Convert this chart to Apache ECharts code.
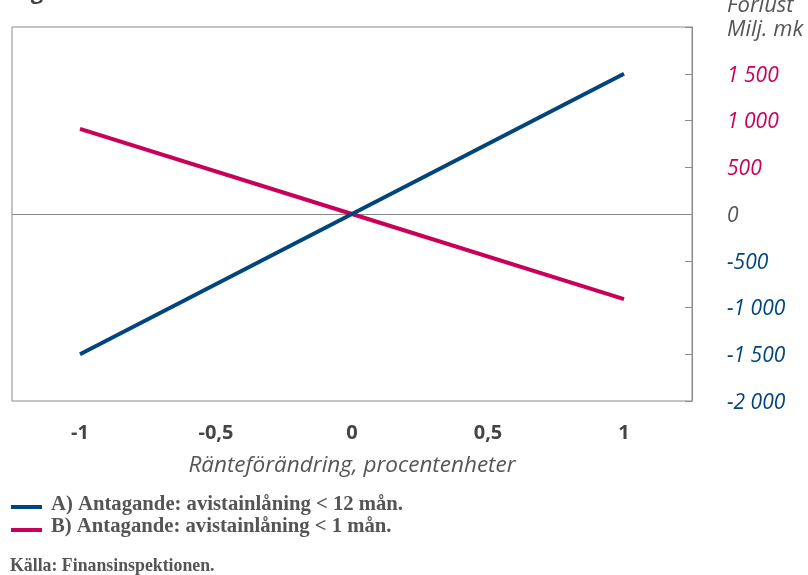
<!DOCTYPE html>
<html><head><meta charset="utf-8">
<script src="https://cdn.jsdelivr.net/npm/echarts@6/dist/echarts.min.js"></script>
<style>html,body{margin:0;padding:0;background:#fff}#c{width:808px;height:575px}</style>
</head><body><div id="c"></div>
<script>
const categories = ['-1', '-0,5', '0', '0,5', '1'];
const seriesA = [-1500, null, 0, null, 1500];
const seriesB = [910, null, 0, null, -910];
const nameA = 'A) Antagande: avistainlåning < 12 mån.';
const nameB = 'B) Antagande: avistainlåning < 1 mån.';
const yUnit = 'Förlust\nMilj. mk';
const xName = 'Ränteförändring, procentenheter';
const source = 'Källa: Finansinspektionen.';
const blue = '#00457c', red = '#c8005a';

const chart = echarts.init(document.getElementById('c'));
chart.setOption({
  animation: false,
  grid: { left: 12, right: 116, top: 27, bottom: 174, show: true, borderColor: '#8a8a8a', borderWidth: 1, backgroundColor: 'transparent' },
  xAxis: {
    type: 'category', data: categories, boundaryGap: true,
    axisLine: { show: false }, axisTick: { show: false },
    axisLabel: { margin: 22, fontSize: 20, fontWeight: 'bold', color: '#444', fontFamily: 'Open Sans' },
    name: xName, nameLocation: 'middle', nameGap: 53,
    nameTextStyle: { fontSize: 22.5, fontStyle: 'italic', color: '#555', fontFamily: 'Open Sans' }
  },
  yAxis: {
    type: 'value', position: 'right', min: -2000, max: 2000, interval: 500,
    axisLine: { show: true, lineStyle: { color: '#8a8a8a', width: 1 } },
    axisTick: { show: true, inside: true, length: 7, lineStyle: { color: '#8a8a8a' } },
    splitLine: { show: false },
    axisLabel: {
      margin: 35, fontSize: 21, fontStyle: 'italic', fontFamily: 'Open Sans',
      formatter: function (v) {
        if (v === 2000) return '';
        const s = Math.abs(v) >= 1000 ? (v < 0 ? '-' : '') + Math.floor(Math.abs(v) / 1000) + ' ' + String(Math.abs(v) % 1000).padStart(3, '0') : String(v);
        if (v > 0) return '{p|' + s + '}';
        if (v < 0) return '{n|' + s + '}';
        return '{z|' + s + '}';
      },
      rich: {
        p: { color: red, fontSize: 21, fontStyle: 'italic', fontFamily: 'Open Sans', padding: [4, 0, 0, 0] },
        n: { color: blue, fontSize: 21, fontStyle: 'italic', fontFamily: 'Open Sans', padding: [4, 0, 0, 0] },
        z: { color: '#555', fontSize: 21, fontStyle: 'italic', fontFamily: 'Open Sans', padding: [4, 0, 0, 0] }
      }
    }
  },
  series: [
    { type: 'line', name: nameA, data: seriesA, connectNulls: true, showSymbol: false, lineStyle: { color: blue, width: 4 }, itemStyle: { color: blue }, z: 3,
      markLine: { silent: true, symbol: 'none', label: { show: false }, lineStyle: { color: '#8a8a8a', width: 1, type: 'solid' }, data: [{ yAxis: 0 }], z: 1 } },
    { type: 'line', name: nameB, data: seriesB, connectNulls: true, showSymbol: false, lineStyle: { color: red, width: 4 }, itemStyle: { color: red }, z: 2 }
  ],
  graphic: [
    { type: 'text', left: 727, top: -6, style: { text: yUnit, fontSize: 22, fontStyle: 'italic', fontFamily: 'Open Sans', fill: '#555', lineHeight: 24 } },
    { type: 'text', left: 12, top: -18, style: { text: 'Figur', fontSize: 22, fontWeight: 'bold', fontFamily: 'Open Sans', fill: '#444' } },
    { type: 'rect', shape: { x: 11, y: 505, width: 31, height: 4 }, style: { fill: blue } },
    { type: 'text', left: 51, top: 494, style: { text: nameA, fontSize: 20.7, fontWeight: 'bold', fontFamily: 'Liberation Serif', fill: '#555' } },
    { type: 'rect', shape: { x: 11, y: 528, width: 31, height: 4 }, style: { fill: red } },
    { type: 'text', left: 51, top: 516, style: { text: nameB, fontSize: 20.7, fontWeight: 'bold', fontFamily: 'Liberation Serif', fill: '#555' } },
    { type: 'text', left: 10, top: 557, style: { text: source, fontSize: 17.8, fontWeight: 'bold', fontFamily: 'Liberation Serif', fill: '#555' } }
  ]
});
</script></body></html>
